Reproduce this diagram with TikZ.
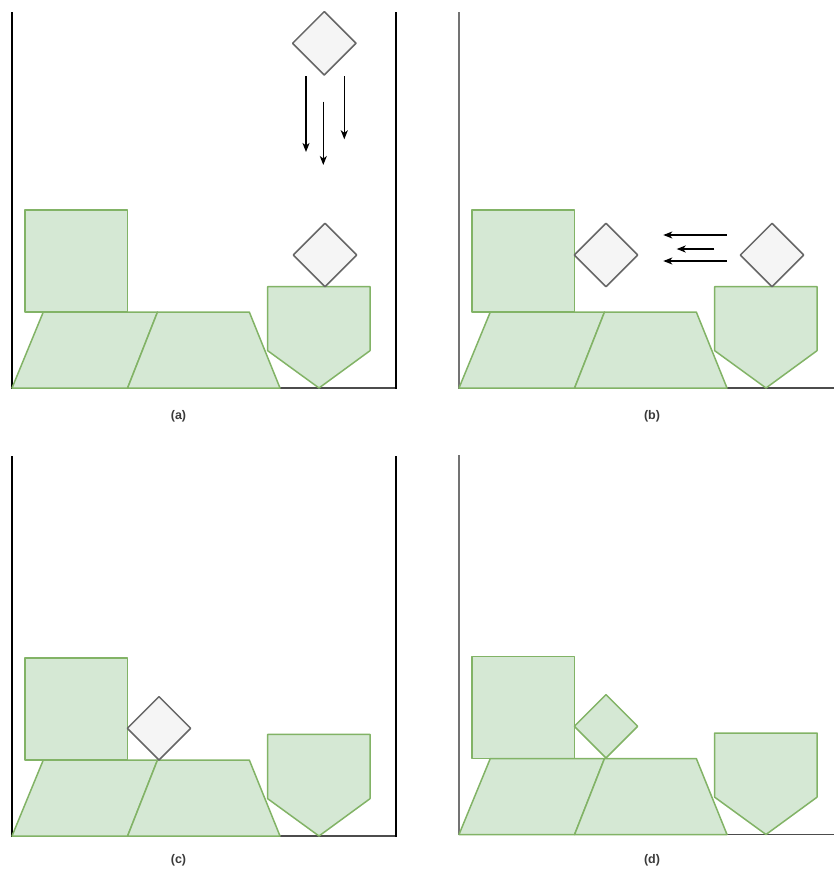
\documentclass[tikz,border=0pt]{standalone}
\usepackage{fontspec}
\setmainfont{Liberation Sans}
\usetikzlibrary{arrows.meta}
\definecolor{gfill}{HTML}{D5E8D4}
\definecolor{gline}{HTML}{82B366}
\definecolor{dfill}{HTML}{F5F5F5}
\definecolor{dline}{HTML}{666666}
\definecolor{labc}{HTML}{3A3A3A}
\tikzset{
  blockshape/.style={fill=gfill, draw=gline, line width=1.5pt, line join=round},
  tileshape/.style={fill=dfill, draw=dline, line width=1.5pt, line join=round},
  wallline/.style={draw=black, line width=1.4pt},
  greywall/.style={draw=black!55, line width=2pt},
  floorline/.style={draw=black!70, line width=1.6pt},
  motion/.style={draw=black, line width=1.3pt, -{Stealth[length=9pt,width=7pt,inset=2.5pt]}},
  caption/.style={font=\fontsize{12.5}{14}\selectfont\bfseries, text=labc}
}
\newcommand{\drawblocks}{%
  \fill[blockshape] (13,-178) rectangle (115.3,-76);
  \fill[blockshape] (0,0) -- (115.6,0) -- (145.5,-76) -- (31.3,-76) -- cycle;
  \fill[blockshape] (115.6,0) -- (145.5,-76) -- (237.3,-76) -- (268,0) -- cycle;
}
\newcommand{\drawpentagon}[1]{%
  \fill[blockshape] (255.7,#1) -- (358,#1) -- (358,-37.3) -- (307,0) -- (255.7,-37.3) -- cycle;
}
\newcommand{\tile}[3]{% center x, center y, style
  \fill[#3] (#1-31.7,#2) -- (#1,#2-31.7) -- (#1+31.7,#2) -- (#1,#2+31.7) -- cycle;
}
\begin{document}
\begin{tikzpicture}[x=1pt,y=-1pt]
\useasboundingbox (0,0) rectangle (834,870);
% ---------- (a)
\begin{scope}[shift={(12,388)}]
  \draw[floorline] (0,0) -- (384,0);
  \draw[wallline] (0,-376) -- (0,0.7);
  \draw[wallline] (384,-376) -- (384,0.7);
  \drawblocks
  \drawpentagon{-101.3}
  \tile{313}{-133}{tileshape}
  \tile{312.3}{-344.7}{tileshape}
  \coordinate (a1s) at (294,-312);  \coordinate (a1e) at (294,-236);
  \coordinate (a2s) at (311.3,-286.3); \coordinate (a2e) at (311.3,-223);
  \coordinate (a3s) at (332.3,-312); \coordinate (a3e) at (332.3,-248.7);
  \draw[motion] (a1s) -- (a1e);
  \draw[motion] (a2s) -- (a2e);
  \draw[motion] (a3s) -- (a3e);
\end{scope}
\node[caption] (capa) at (178.5,416) {(a)};
% ---------- (b)
\begin{scope}[shift={(459,388)}]
  \draw[floorline] (0,0) -- (375,0);
  \draw[greywall] (0,-376) -- (0,0.7);
  \drawblocks
  \drawpentagon{-101.3}
  \tile{313}{-133}{tileshape}
  \tile{147}{-133}{tileshape}
  \coordinate (b1s) at (267.7,-153); \coordinate (b1e) at (204.3,-153);
  \coordinate (b2s) at (255.3,-139); \coordinate (b2e) at (217.7,-139);
  \coordinate (b3s) at (267.7,-127); \coordinate (b3e) at (204.3,-127);
  \draw[motion] (b1s) -- (b1e);
  \draw[motion] (b2s) -- (b2e);
  \draw[motion] (b3s) -- (b3e);
\end{scope}
\node[caption] (capb) at (652,416) {(b)};
% ---------- (c)
\begin{scope}[shift={(12,836)}]
  \draw[floorline] (0,0) -- (384,0);
  \draw[wallline] (0,-380) -- (0,0.7);
  \draw[wallline] (384,-380) -- (384,0.7);
  \drawblocks
  \drawpentagon{-101.7}
  \tile{147}{-107.7}{tileshape}
\end{scope}
\node[caption] (capc) at (178.5,860) {(c)};
% ---------- (d)
\begin{scope}[shift={(459,834.5)}]
  \draw[floorline] (0,0) -- (375,0);
  \draw[greywall] (0,-379.5) -- (0,0.7);
  \drawblocks
  \drawpentagon{-101.5}
  \tile{147}{-108.2}{blockshape}
\end{scope}
\node[caption] (capd) at (652,860) {(d)};
\end{tikzpicture}
\end{document}
